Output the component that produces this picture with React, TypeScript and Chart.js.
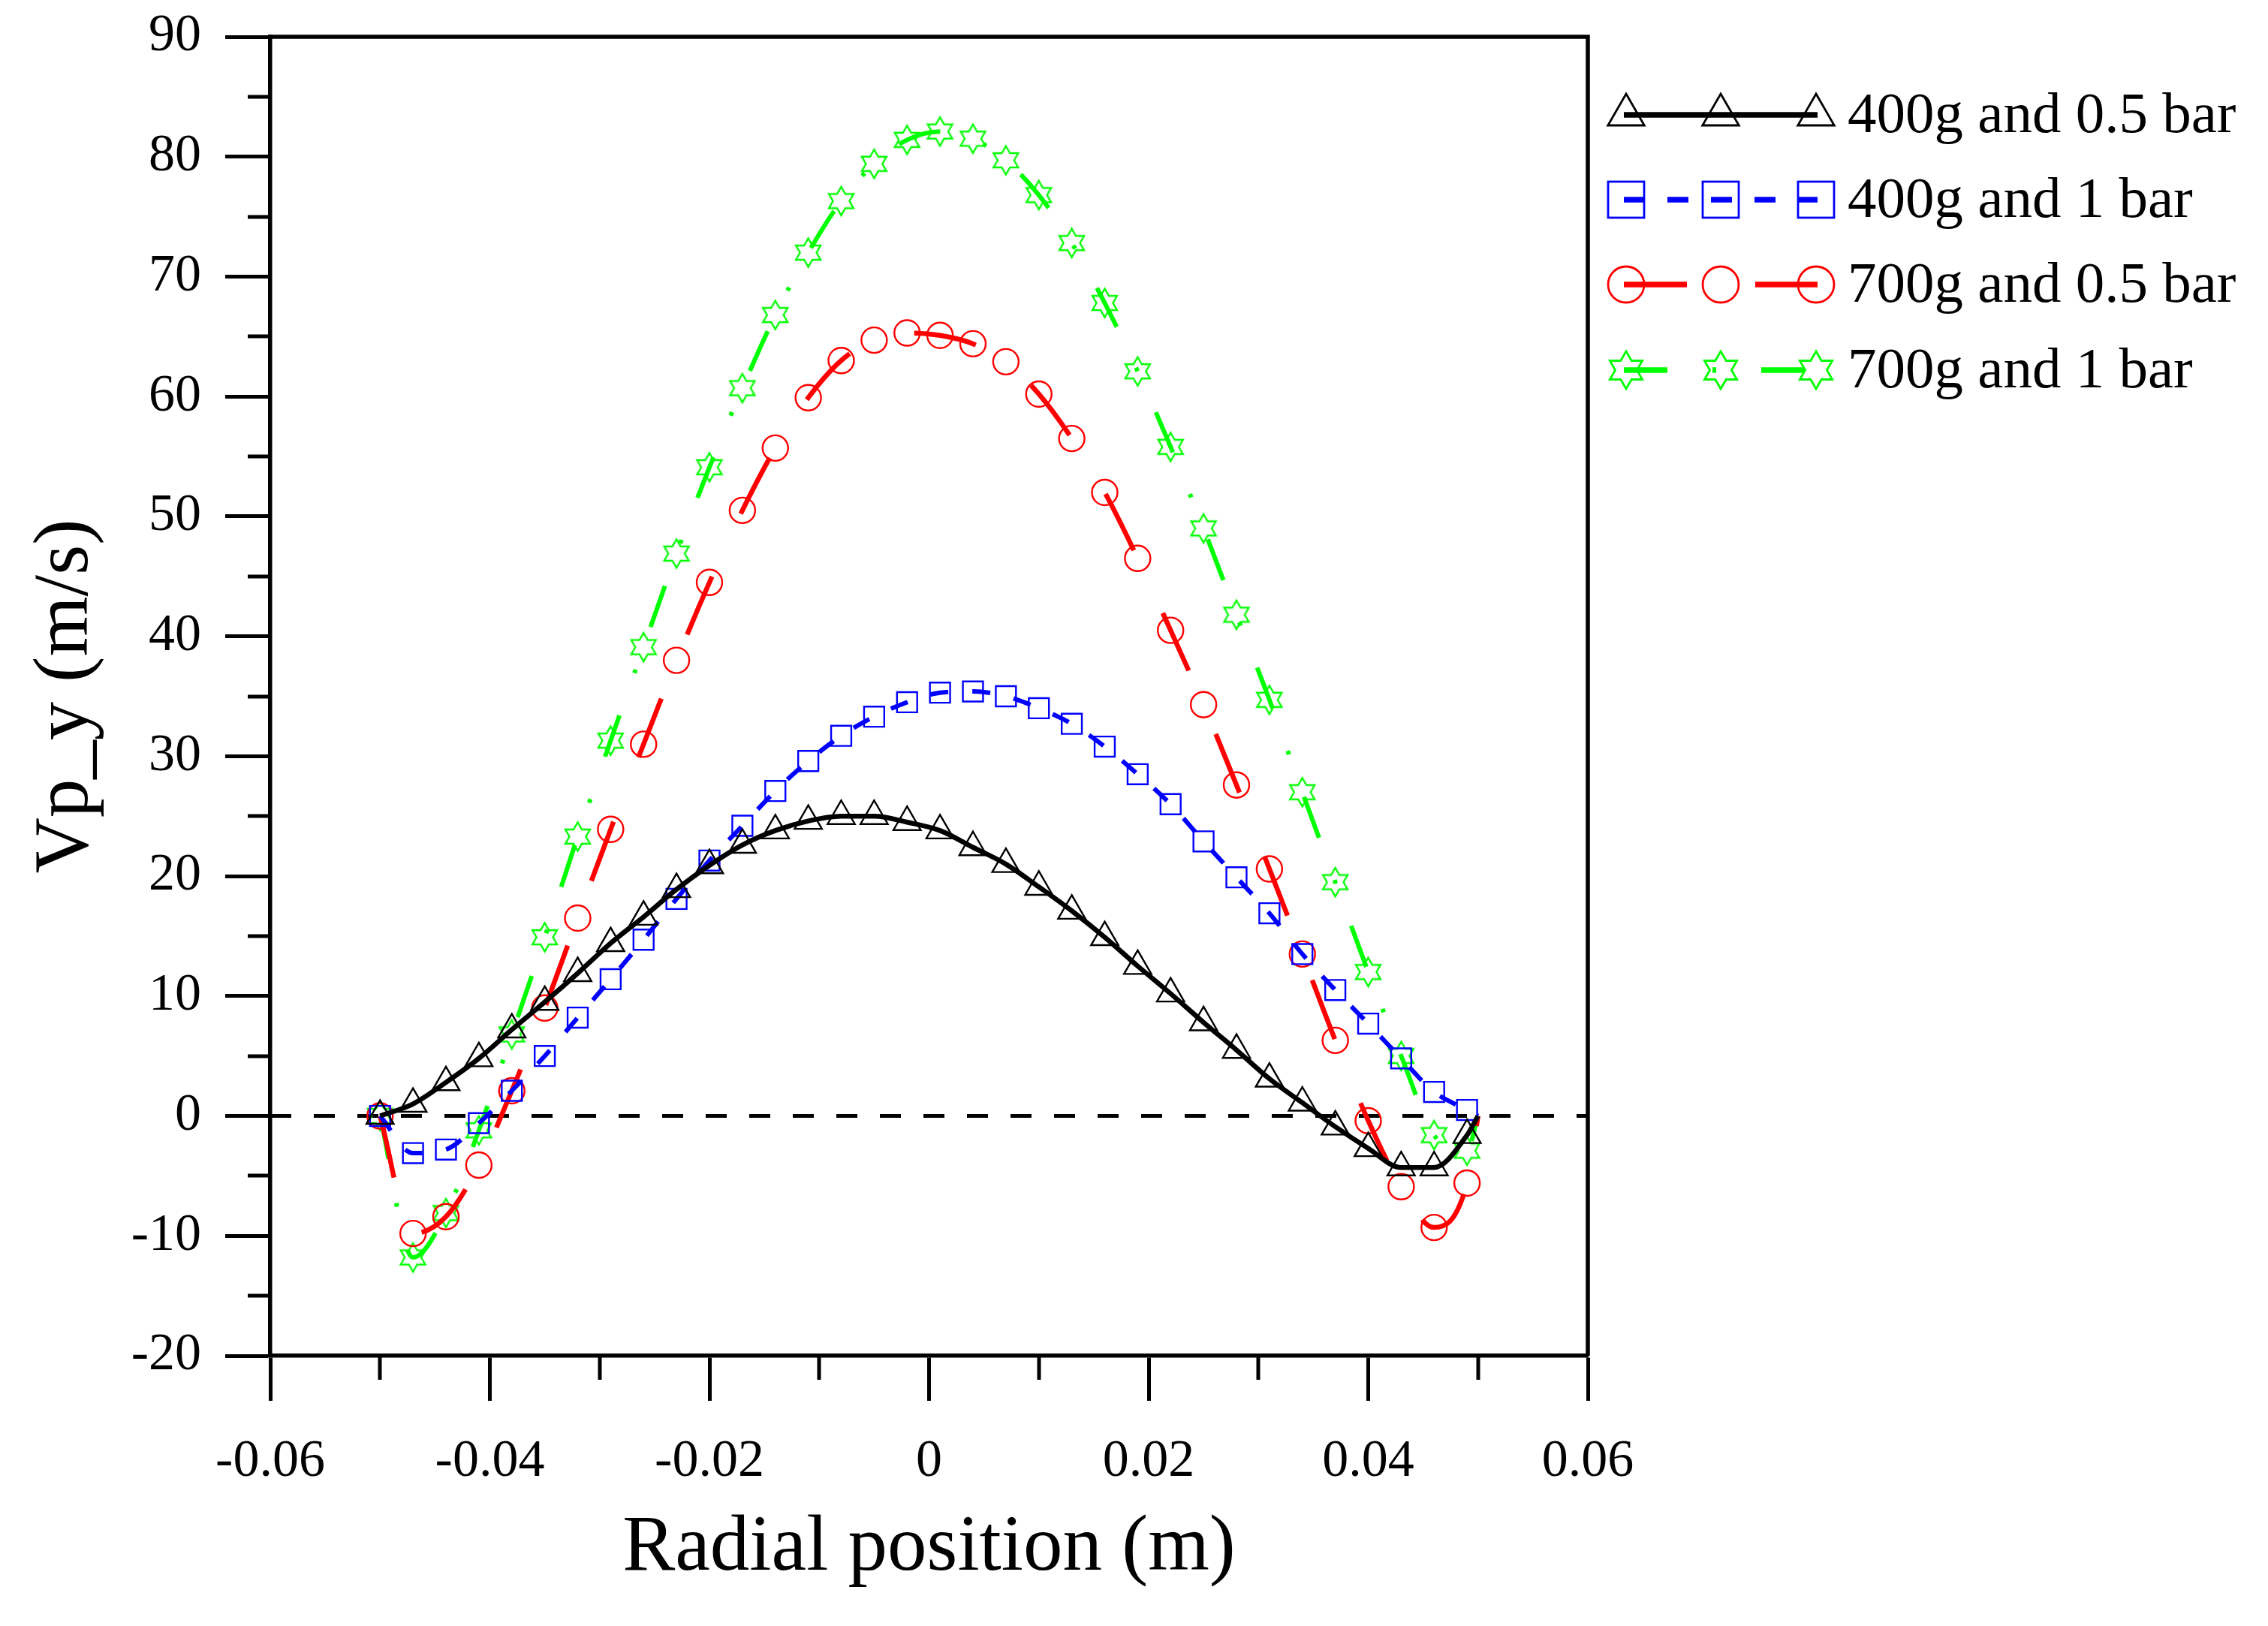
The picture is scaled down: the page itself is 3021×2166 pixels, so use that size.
import { useEffect, useRef } from 'react'
import { Chart, registerables } from 'chart.js'
Chart.register(...registerables)

// radial positions of the marker points (the last one only closes the curve at the wall)
const xPos = [-0.05, -0.047, -0.044, -0.041, -0.038, -0.035, -0.032, -0.029, -0.026, -0.023, -0.02, -0.017, -0.014, -0.011, -0.008, -0.005, -0.002, 0.001, 0.004, 0.007, 0.01, 0.013, 0.016, 0.019, 0.022, 0.025, 0.028, 0.031, 0.034, 0.037, 0.04, 0.043, 0.046, 0.049, 0.05]
const vp400g05 = [0, 1.0, 2.8, 4.8, 7.2, 9.5, 11.9, 14.4, 16.6, 18.9, 20.9, 22.6, 23.8, 24.6, 25.0, 25.0, 24.5, 23.8, 22.4, 21.0, 19.1, 17.1, 14.9, 12.5, 10.2, 7.8, 5.5, 3.1, 1.1, -0.9, -2.7, -4.3, -4.3, -1.6, 0]
const vp400g1 = [0, -3.1, -2.8, -0.6, 2.1, 5.0, 8.2, 11.4, 14.7, 18.1, 21.3, 24.2, 27.1, 29.6, 31.7, 33.3, 34.5, 35.3, 35.4, 35.0, 34.0, 32.7, 30.8, 28.5, 26.0, 22.9, 19.9, 16.9, 13.5, 10.5, 7.7, 4.8, 2.0, 0.5, 0]
const vp700g05 = [0, -9.8, -8.4, -4.1, 2.1, 9.0, 16.5, 23.9, 31.0, 38.0, 44.5, 50.5, 55.7, 59.9, 63.0, 64.7, 65.3, 65.1, 64.4, 62.9, 60.2, 56.5, 52.0, 46.5, 40.5, 34.3, 27.6, 20.6, 13.5, 6.3, -0.4, -5.9, -9.3, -5.6, 0]
const vp700g1 = [0, -11.8, -8.1, -1.2, 6.8, 14.9, 23.3, 31.3, 39.1, 46.9, 54.1, 60.7, 66.8, 72.0, 76.3, 79.4, 81.4, 82.1, 81.5, 79.7, 76.8, 72.8, 67.8, 62.1, 55.8, 49.0, 41.8, 34.7, 27.0, 19.5, 12.0, 5.0, -1.6, -2.9, 0]
const zeroX = [-0.06, 0.06]
const zeroY = [0, 0]
const seriesNames = ['400g and 0.5 bar', '400g and 1 bar', '700g and 0.5 bar', '700g and 1 bar']
const xTickLabels = ['-0.06', '-0.04', '-0.02', '0', '0.02', '0.04', '0.06']

const FONT = 'Liberation Serif'

function hexagram(R: number, color: string, lw: number) {
  const c = document.createElement('canvas')
  const d = Math.ceil(R * 2 + lw * 2 + 4)
  c.width = d; c.height = d
  const g = c.getContext('2d')!
  const ri = R / Math.sqrt(3)
  g.beginPath()
  for (let k = 0; k < 12; k++) {
    const a = -Math.PI / 2 + k * Math.PI / 6
    const r = k % 2 === 0 ? R : ri
    const px = d / 2 + r * Math.cos(a), py = d / 2 + r * Math.sin(a)
    if (k === 0) g.moveTo(px, py); else g.lineTo(px, py)
  }
  g.closePath()
  g.strokeStyle = color; g.lineWidth = lw; g.stroke()
  return c
}

export default function App() {
  const ref = useRef<HTMLCanvasElement>(null)

  useEffect(() => {
    if (!ref.current) return
    const star = hexagram(19, '#00ff00', 2.4)
    const starBig = hexagram(25, '#00ff00', 2.8)
    const last = xPos.length - 1

    const mk = (i: number, ys: number[], color: string, dash: number[], lw: number, style: any, r: number) => ({
      label: seriesNames[i],
      data: xPos.map((x, k) => ({ x, y: ys[k] })),
      borderColor: color, borderWidth: lw, borderDash: dash,
      pointStyle: style, pointRadius: (c: any) => (c.dataIndex === last ? 0 : r),
      pointBorderColor: color, pointBackgroundColor: 'rgba(0,0,0,0)', pointBorderWidth: 2.4,
      cubicInterpolationMode: 'monotone' as const, fill: false,
    })

    const legendStyles = [
      { color: '#000000', dash: [] as number[], style: 'triangle' },
      { color: '#0000ff', dash: [28, 30], style: 'rect' },
      { color: '#ff0000', dash: [84, 91], style: 'circle' },
      { color: '#00ff00', dash: [58, 60, 5, 60], style: 'star' },
    ]

    const frame = {
      id: 'frame',
      afterDraw(chart: any) {
        const { ctx, chartArea: a, scales } = chart
        ctx.save()
        ctx.strokeStyle = '#000'
        ctx.lineWidth = 5.5
        ctx.beginPath()
        ctx.moveTo(a.left - 2.5, a.top); ctx.lineTo(a.right, a.top); ctx.lineTo(a.right, a.bottom)
        ctx.stroke()
        // minor ticks
        ctx.lineWidth = 5
        ctx.beginPath()
        for (let v = -15; v < 90; v += 10) {
          const y = Math.round(scales.y.getPixelForValue(v))
          ctx.moveTo(a.left - 30, y); ctx.lineTo(a.left, y)
        }
        for (let k = -5; k <= 5; k += 2) {
          const x = Math.round(scales.x.getPixelForValue(k / 100))
          ctx.moveTo(x, a.bottom); ctx.lineTo(x, a.bottom + 32)
        }
        ctx.stroke()

        // legend
        const rows = [156, 269, 382, 496]
        const mx = [2166, 2292, 2419]
        rows.forEach((ty, i) => {
          const s = legendStyles[i]
          const y = ty - 3
          ctx.strokeStyle = s.color
          ctx.lineWidth = 7.5
          ctx.setLineDash(s.dash)
          ctx.beginPath(); ctx.moveTo(2163, y); ctx.lineTo(2421, y); ctx.stroke()
          ctx.setLineDash([])
          ctx.lineWidth = 2.8
          mx.forEach(x => {
            ctx.beginPath()
            if (s.style === 'triangle') {
              const r = 28
              ctx.moveTo(x, y - r)
              ctx.lineTo(x + r * Math.sin(2 * Math.PI / 3), y - r * Math.cos(2 * Math.PI / 3))
              ctx.lineTo(x + r * Math.sin(4 * Math.PI / 3), y - r * Math.cos(4 * Math.PI / 3))
              ctx.closePath(); ctx.stroke()
            } else if (s.style === 'rect') {
              ctx.strokeRect(x - 24, y - 24, 48, 48)
            } else if (s.style === 'circle') {
              ctx.arc(x, y, 24, 0, Math.PI * 2); ctx.stroke()
            } else {
              ctx.drawImage(starBig, x - starBig.width / 2, y - starBig.height / 2)
            }
          })
          ctx.fillStyle = '#000'
          ctx.font = `77px "${FONT}"`
          ctx.textAlign = 'left'
          ctx.textBaseline = 'middle'
          ctx.fillText(seriesNames[i], 2461, ty)
        })
        ctx.restore()
      },
    }

    const chart = new Chart(ref.current, {
      type: 'line',
      data: {
        datasets: [
          mk(0, vp400g05, '#000000', [], 6.5, 'triangle', 21),
          mk(1, vp400g1, '#0000ff', [24, 32], 6, 'rect', 19),
          mk(2, vp700g05, '#ff0000', [84, 92], 6.5, 'circle', 17),
          mk(3, vp700g1, '#00ff00', [58, 60, 5, 60], 6, star, 19),
          {
            label: 'zero',
            data: zeroX.map((x, k) => ({ x, y: zeroY[k] })),
            borderColor: '#000', borderWidth: 5, borderDash: [28, 30], pointRadius: 0, fill: false,
          },
        ] as any,
      },
      options: {
        responsive: false, animation: false, devicePixelRatio: 1, events: [],
        layout: { padding: { top: 49, right: 906, left: 0, bottom: 0 } },
        plugins: { legend: { display: false }, tooltip: { enabled: false } },
        scales: {
          x: {
            type: 'linear', min: -0.06, max: 0.06,
            afterFit: (s: any) => { s.height = 360; s.paddingLeft = 0; s.paddingRight = 0 },
            ticks: {
              stepSize: 0.01, autoSkip: false, maxRotation: 0, padding: 40, color: '#000',
              font: { family: FONT, size: 70 },
              callback: (v: any) => {
                const k = Math.round(Number(v) * 100)
                return Math.abs(k) % 2 === 0 ? xTickLabels[(k + 6) / 2] : ''
              },
            },
            grid: {
              drawOnChartArea: false, drawTicks: true, tickLength: 60, tickWidth: 5,
              tickColor: (c: any) => (Math.abs(Math.round(c.tick.value * 100)) % 2 === 0 ? '#000' : 'rgba(0,0,0,0)'),
            },
            border: { display: true, color: '#000', width: 5.5 },
            title: {
              display: true, text: 'Radial position (m)', color: '#000',
              font: { family: FONT, size: 105, lineHeight: 1 }, padding: { top: 0, bottom: 50 },
            },
          },
          y: {
            type: 'linear', min: -20, max: 90,
            afterFit: (s: any) => { s.width = 360; s.paddingTop = 0; s.paddingBottom = 0 },
            ticks: {
              stepSize: 5, autoSkip: false, padding: 32, color: '#000',
              font: { family: FONT, size: 70 },
              callback: (v: any) => (Number(v) % 10 === 0 ? String(v) : ''),
            },
            grid: {
              drawOnChartArea: false, drawTicks: true, tickLength: 60, tickWidth: 5,
              tickColor: (c: any) => (c.tick.value % 10 === 0 ? '#000' : 'rgba(0,0,0,0)'),
            },
            border: { display: true, color: '#000', width: 5.5 },
            title: {
              display: true, text: 'Vp_y (m/s)', color: '#000',
              font: { family: FONT, size: 103, lineHeight: 1 }, padding: { top: 37, bottom: 0 },
            },
          },
        },
      },
      plugins: [frame],
    })
    return () => { chart.destroy() }
  }, [])

  return (
    <div style={{ position: 'fixed', left: 0, top: 0, width: 3021, height: 2166, background: '#fff' }}>
      <canvas ref={ref} width={3021} height={2166} style={{ display: 'block', width: 3021, height: 2166 }} />
    </div>
  )
}
